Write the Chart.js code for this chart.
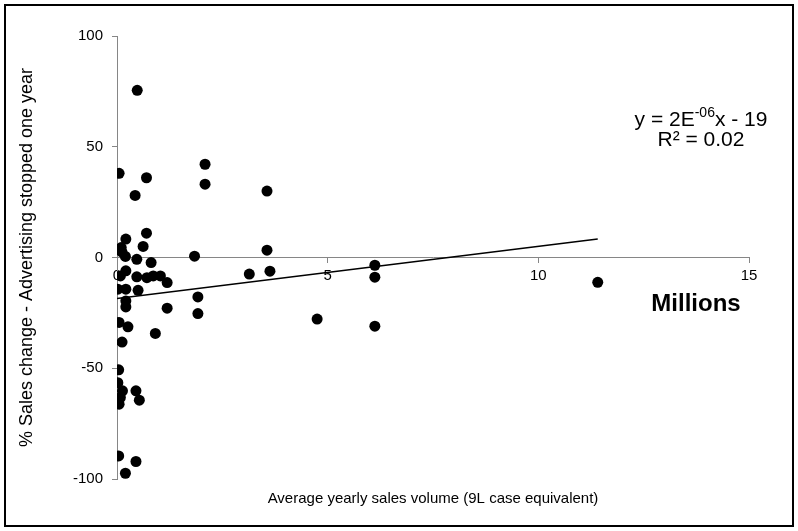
<!DOCTYPE html>
<html>
<head>
<meta charset="utf-8">
<script src="https://cdn.jsdelivr.net/npm/chart.js@4.4.1/dist/chart.umd.min.js"></script>
<style>
  html, body { margin: 0; padding: 0; background: #fff; }
  #wrap { width: 798px; height: 531px; }
</style>
</head>
<body>
<div id="wrap"><canvas id="salesChart" width="798" height="531"></canvas></div>
<script>
// average yearly sales volume (millions of 9L cases) and % sales change
const salesVolume = [
  0.48, 0.05, 0.70, 0.43, 0.70, 0.21, 0.62, 0.10, 0.12, 0.20,
  0.47, 1.84, 0.81, 0.21, 0.08, 0.47, 0.71, 0.86, 1.03, 1.19,
  0.02, 0.21, 0.50, 0.21, 0.21, 1.19, 1.92, 1.92, 0.05, 0.26,
  0.91, 0.12, 0.04, 0.02, 0.13, 0.08, 0.05, 0.45, 0.53, 0.04,
  0.45, 0.20, 2.09, 2.09, 3.56, 3.56, 3.63, 3.14, 4.75, 6.12,
  6.12, 6.12, 11.41
];
const salesChange = [
  75.5, 38, 36, 28, 11, 8.3, 5, 4.5, 2.4, 0.5,
  -0.8, 0.6, -2.3, -6, -8.3, -8.7, -9.1, -8.3, -8.3, -11.3,
  -14.3, -14.3, -14.8, -19.6, -22.3, -22.9, -17.8, -25.3, -29.3, -31.3,
  -34.3, -38.2, -50.7, -56.5, -60.2, -63.2, -66.2, -60.2, -64.4, -89.6,
  -92.1, -97.4, 42.1, 33.1, 30, 3.3, -6.2, -7.5, -27.8, -3.5,
  -8.9, -31, -11.2
];

// linear trendline ends as drawn
const trendX = [0, 11.41];
const trendY = [-18.5, 8.3];

const xTicks = [0, 5, 10, 15];
const yTicks = [-100, -50, 0, 50, 100];

const FONT = "'Liberation Sans', Arial, sans-serif";
const axisGrey = '#868686';

const points = salesVolume.map((v, i) => ({ x: v, y: salesChange[i] }));
const trend = trendX.map((v, i) => ({ x: v, y: trendY[i] }));

// frame + equation text, like the excel chart
const extras = {
    id: 'extras',
    beforeDraw(chart) {
        const c = chart.ctx;
        c.save();
        c.fillStyle = '#fff';
        c.fillRect(0, 0, chart.width, chart.height);
        c.restore();
    },
    afterDraw(chart) {
        const c = chart.ctx;
        c.save();
        c.strokeStyle = '#000';
        c.lineWidth = 2;
        c.strokeRect(5, 5, 788, 521);

        c.fillStyle = '#000';
        c.textBaseline = 'middle';
        const cx = 701;
        const big = '21px ' + FONT, small = '14px ' + FONT;
        c.font = big;
        const a = 'y = 2E', b = 'x - 19', sup = '-06';
        const wa = c.measureText(a).width, wb = c.measureText(b).width;
        c.font = small;
        const ws = c.measureText(sup).width;
        let x0 = cx - (wa + ws + wb) / 2;
        c.textAlign = 'left';
        c.font = big;
        c.fillText(a, x0, 120);
        c.font = small;
        c.fillText(sup, x0 + wa, 113);
        c.font = big;
        c.fillText(b, x0 + wa + ws, 120);
        c.textAlign = 'center';
        c.fillText('R² = 0.02', cx, 140);

        c.font = 'bold 24px ' + FONT;
        c.fillText('Millions', 696, 304);
        c.restore();
    }
};

const ctx = document.getElementById('salesChart').getContext('2d');
new Chart(ctx, {
    type: 'scatter',
    data: {
        datasets: [{
            label: 'Trend',
            data: trend,
            showLine: true,
            borderColor: '#000',
            borderWidth: 1.5,
            pointRadius: 0,
            order: 0
        }, {
            label: 'Brands',
            data: points,
            backgroundColor: '#000',
            borderColor: '#000',
            borderWidth: 0,
            pointRadius: 5.5,
            order: 1
        }]
    },
    options: {
        responsive: false,
        animation: false,
        layout: { padding: { top: 36, right: 49, bottom: 0, left: 0 } },
        plugins: {
            legend: { display: false },
            tooltip: { enabled: false }
        },
        scales: {
            x: {
                type: 'linear',
                position: { y: 0 },
                min: 0,
                max: 15,
                afterBuildTicks: s => { s.ticks = xTicks.map(v => ({ value: v })); },
                ticks: { color: '#000', font: { family: FONT, size: 15 }, padding: 4, maxRotation: 0 },
                grid: { display: true, drawOnChartArea: false, drawTicks: true, tickLength: 5, color: axisGrey },
                border: { display: true, color: axisGrey, width: 1 }
            },
            x2: {
                type: 'linear',
                axis: 'x',
                position: 'bottom',
                ticks: { display: false },
                grid: { display: false, drawTicks: false },
                border: { display: false },
                title: {
                    display: true,
                    text: 'Average yearly sales volume (9L case equivalent)',
                    color: '#000',
                    font: { family: FONT, size: 15 },
                    padding: { top: 0, bottom: 23 }
                },
                afterFit: s => { s.height = 52; }
            },
            y: {
                type: 'linear',
                position: 'left',
                min: -100,
                max: 100,
                afterBuildTicks: s => { s.ticks = yTicks.map(v => ({ value: v })); },
                ticks: { color: '#000', font: { family: FONT, size: 15 }, padding: 9 },
                grid: { display: true, drawOnChartArea: false, drawTicks: true, tickLength: 5, color: axisGrey },
                border: { display: true, color: axisGrey, width: 1 },
                title: {
                    display: true,
                    text: '% Sales change - Advertising stopped one year',
                    color: '#000',
                    font: { family: FONT, size: 18 },
                    padding: { top: 16, bottom: 0 }
                },
                afterFit: s => { s.width = 117; }
            }
        }
    },
    plugins: [extras]
});
</script>
</body>
</html>
